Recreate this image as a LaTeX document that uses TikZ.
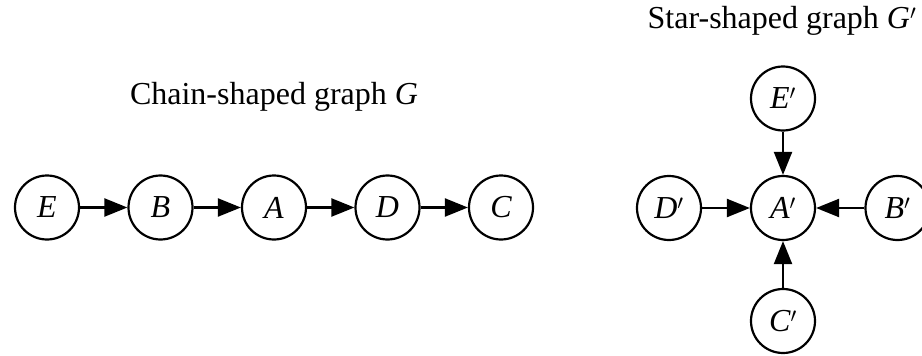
\documentclass[tikz,border=0pt]{standalone}
\usepackage{fontspec}
\setmainfont{Liberation Serif}
\usetikzlibrary{arrows.meta}
\begin{document}
\begin{tikzpicture}[x=1pt,y=-1pt,
  vnode/.style={circle,draw,line width=2.2pt,minimum size=64pt,inner sep=0pt,font=\fontsize{32}{38}\selectfont\itshape},
  title/.style={anchor=base,inner sep=0pt,font=\fontsize{32}{38}\selectfont},
  edge/.style={line width=2.2pt,-{Triangle[length=23pt,width=18pt]}}]
\useasboundingbox (0,0) rectangle (922,356);
\node[title] (t1) at (274,104) {Chain-shaped graph \textit{G}};
\node[title] (t2) at (782,28.5) {Star-shaped graph \textit{G}$'$};
\node[vnode] (E) at (47,207.5) {E};
\node[vnode] (B) at (160.5,207.5) {B};
\node[vnode] (A) at (274,207.5) {A};
\node[vnode] (D) at (387.5,207.5) {D};
\node[vnode] (C) at (501,207.5) {C};
\draw[edge] (E) -- (B);
\draw[edge] (B) -- (A);
\draw[edge] (A) -- (D);
\draw[edge] (D) -- (C);
\node[vnode] (A2) at (783,208) {A$'$};
\node[vnode] (D2) at (669,208) {D$'$};
\node[vnode] (B2) at (897.5,208) {B$'$};
\node[vnode] (E2) at (783,98.5) {E$'$};
\node[vnode] (C2) at (783,321) {C$'$};
\draw[edge] (D2) -- (A2);
\draw[edge] (B2) -- (A2);
\draw[edge] (E2) -- (A2);
\draw[edge] (C2) -- (A2);
\end{tikzpicture}
\end{document}
